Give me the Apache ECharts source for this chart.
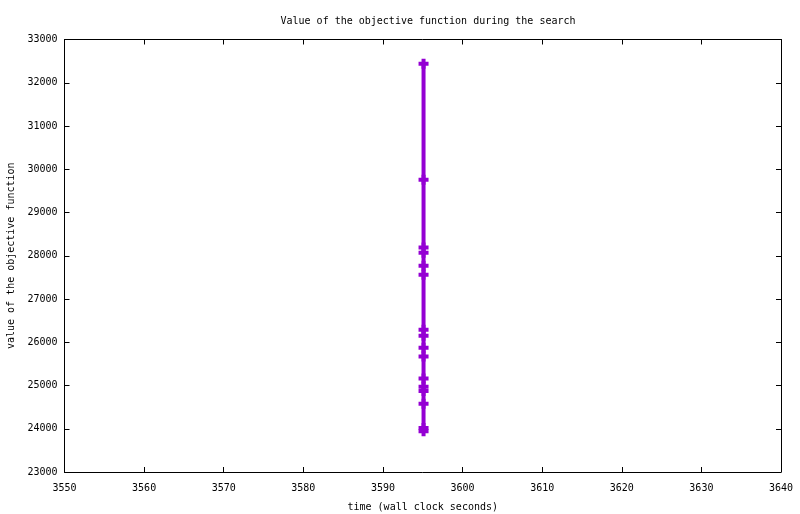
<!DOCTYPE html>
<html>
<head>
<meta charset="utf-8">
<script src="https://cdn.jsdelivr.net/npm/echarts@6/dist/echarts.min.js"></script>
<style>
html,body{margin:0;padding:0;background:#fff;}
#chart{width:800px;height:514px;}
</style>
</head>
<body>
<div id="chart"></div>
<script>
// Data
var times = [3595.1, 3595.1, 3595.1, 3595.1, 3595.1, 3595.1, 3595.1, 3595.1, 3595.1, 3595.1, 3595.1, 3595.1, 3595.1, 3595.1, 3595.1, 3595.1];
var objectiveValues = [32440, 29760, 28190, 28070, 27770, 27560, 26290, 26150, 25870, 25670, 25160, 24970, 24870, 24580, 24020, 23940];
var xTicks = [3550, 3560, 3570, 3580, 3590, 3600, 3610, 3620, 3630, 3640];
var yTicks = [23000, 24000, 25000, 26000, 27000, 28000, 29000, 30000, 31000, 32000, 33000];

var FONT = 'DejaVu Sans Mono';
var points = times.map(function (t, i) { return [t, objectiveValues[i]]; });
function plain(v) { return String(v); }

function xAxisCfg(pos, showLabels) {
  return {
    type: 'value', position: pos,
    min: xTicks[0], max: xTicks[xTicks.length - 1], interval: xTicks[1] - xTicks[0],
    axisLine: { show: true, onZero: false, lineStyle: { color: '#000', width: 1 } },
    axisTick: { show: true, inside: true, length: 5, lineStyle: { color: '#000', width: 1 } },
    axisLabel: { show: showLabels, margin: 11, color: '#000', fontFamily: FONT, fontSize: 10, formatter: plain, hideOverlap: false },
    splitLine: { show: false }
  };
}
function yAxisCfg(pos, showLabels) {
  return {
    type: 'value', position: pos,
    min: yTicks[0], max: yTicks[yTicks.length - 1], interval: yTicks[1] - yTicks[0],
    axisLine: { show: true, onZero: false, lineStyle: { color: '#000', width: 1 } },
    axisTick: { show: true, inside: true, length: 5, lineStyle: { color: '#000', width: 1 } },
    axisLabel: { show: showLabels, margin: 7, color: '#000', fontFamily: FONT, fontSize: 10, formatter: plain, hideOverlap: false },
    splitLine: { show: false }
  };
}

var xBottom = xAxisCfg('bottom', true);
xBottom.name = 'time (wall clock seconds)';
xBottom.nameLocation = 'middle';
xBottom.nameGap = 30;
xBottom.nameTextStyle = { color: '#000', fontFamily: FONT, fontSize: 10 };

var yLeft = yAxisCfg('left', true);
yLeft.name = 'value of the objective function';
yLeft.nameLocation = 'middle';
yLeft.nameGap = 48;
yLeft.nameTextStyle = { color: '#000', fontFamily: FONT, fontSize: 10 };

var chart = echarts.init(document.getElementById('chart'), null, { renderer: 'canvas' });
chart.setOption({
  animation: false,
  backgroundColor: '#fff',
  title: {
    text: 'Value of the objective function during the search',
    left: 423, textAlign: 'center', top: 11,
    textStyle: { color: '#000', fontFamily: FONT, fontSize: 10, fontWeight: 'normal' }
  },
  grid: { left: 64.5, right: 19, top: 39.5, bottom: 42, containLabel: false, outerBoundsMode: 'none' },
  xAxis: [xBottom, xAxisCfg('top', false)],
  yAxis: [yLeft, yAxisCfg('right', false)],
  series: [{
    type: 'line',
    xAxisIndex: 0, yAxisIndex: 0,
    data: points,
    color: '#9400D3',
    lineStyle: { color: '#9400D3', width: 4 },
    symbol: 'path://M3,0H7V3H10V7H7V10H3V7H0V3H3Z',
    symbolSize: 10,
    itemStyle: { color: '#9400D3' },
    showSymbol: true
  }]
});
</script>
</body>
</html>
